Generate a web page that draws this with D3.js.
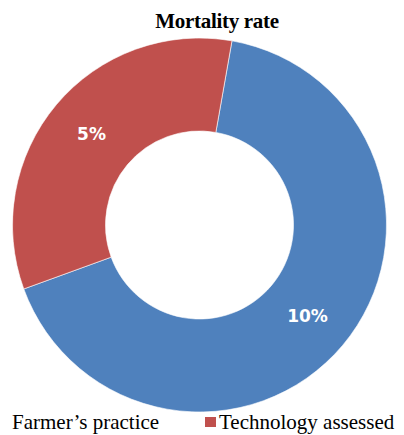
<!DOCTYPE html>
<html>
<head>
<meta charset="utf-8">
<script src="https://cdn.jsdelivr.net/npm/d3@7"></script>
<style>
  body { margin: 0; background: #fff; }
  svg { display: block; }
</style>
</head>
<body>
<div id="chart"></div>
<script>
var categories = ["Farmer\u2019s practice", "Technology assessed"];
var values = [10, 5];
var labels = ["10%", "5%"];
var colors = ["#4F81BD", "#C0504D"];

var width = 404, height = 435;
var cx = 199.5, cy = 225;
var outerR = 187, innerR = 94;

var svg = d3.select("#chart").append("svg")
  .attr("width", width)
  .attr("height", height);

svg.append("text")
  .attr("x", 217)
  .attr("y", 28)
  .attr("text-anchor", "middle")
  .attr("font-family", "'Liberation Serif', 'Times New Roman', serif")
  .attr("font-weight", "bold")
  .attr("font-size", "21px")
  .attr("letter-spacing", "-0.3px")
  .text("Mortality rate");

var pie = d3.pie().sort(null)
  .startAngle(10 * Math.PI / 180)
  .endAngle(370 * Math.PI / 180);

var arc = d3.arc().innerRadius(innerR).outerRadius(outerR);
var labelArc = d3.arc().innerRadius(141).outerRadius(141);

var g = svg.append("g").attr("transform", "translate(" + cx + "," + cy + ")");
var arcs = pie(values);

g.selectAll("path.slice")
  .data(arcs).enter()
  .append("path")
  .attr("class", "slice")
  .attr("d", arc)
  .attr("fill", function(d, i) { return colors[i]; })
  .attr("stroke", "#fff")
  .attr("stroke-width", 0.6);

g.selectAll("text.lbl")
  .data(arcs).enter()
  .append("text")
  .attr("class", "lbl")
  .attr("transform", function(d) { return "translate(" + labelArc.centroid(d) + ")"; })
  .attr("text-anchor", "middle")
  .attr("dy", "0.36em")
  .attr("fill", "#fff")
  .attr("font-family", "'DejaVu Sans', Verdana, sans-serif")
  .attr("font-weight", "bold")
  .attr("font-size", "17px")
  .text(function(d, i) { return labels[i]; });

// legend (first swatch falls just off the left edge, as in the source image)
var legendX = [12, 219];
var legend = svg.append("g");
categories.forEach(function(c, i) {
  legend.append("rect")
    .attr("x", legendX[i] - (i === 0 ? 26 : 14))
    .attr("y", 417)
    .attr("width", 11)
    .attr("height", 10)
    .attr("fill", colors[i]);
  legend.append("text")
    .attr("x", legendX[i])
    .attr("y", 429)
    .attr("font-family", "'Liberation Serif', 'Times New Roman', serif")
    .attr("font-size", "21px")
    .attr("fill", "#000")
    .text(c);
});
</script>
</body>
</html>
